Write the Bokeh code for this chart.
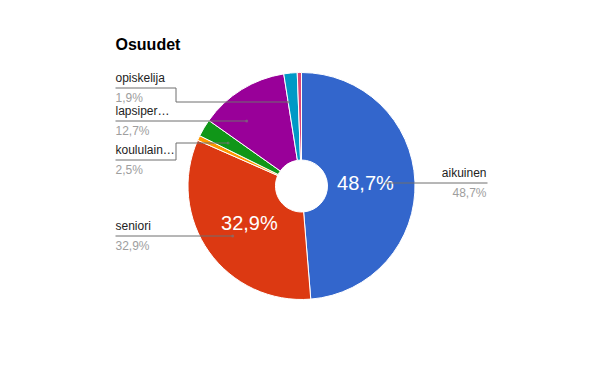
import math
from bokeh.plotting import figure
from bokeh.models import Range1d, ColumnDataSource
from bokeh.embed import file_html
from bokeh.resources import INLINE
from bokeh.core.properties import value

# ---- data ----
title_text = "Osuudet"
categories = ["aikuinen", "seniori", "muu", "koululainen", "lapsiperhe", "opiskelija", "ryhmä"]
shares = [48.7, 32.9, 0.7, 2.5, 12.7, 1.9, 0.6]
slice_colors = ["#3366cc", "#dc3912", "#ff9900", "#109618", "#990099", "#0099c6", "#dd4477"]
label_names = ["aikuinen", "seniori", "", "koululain…", "lapsiper…", "opiskelija", ""]

# ---- layout (page pixel coordinates, y downward) ----
W, H = 584, 355
CX, CY = 301.0, 185.5
R_OUT, R_IN = 113.5, 26.0
R_INNER_TEXT = 64.0
R_POINTER = 85.0
FONT = value("Liberation Sans")
TXT_SHIFT = 0.35  # baseline correction, fraction of font size
# label layout: category -> (side, y where leader meets the slice, y of the line under the name)
label_layout = {
    "aikuinen": ("right", 182.5, 182.5),
    "seniori": ("left", 235.5, 235.5),
    "koululainen": ("left", 142.5, 159.5),
    "lapsiperhe": ("left", 120.5, 120.5),
    "opiskelija": ("left", 101.5, 87.5),
}
LEFT_X, BEND_X, RIGHT_X = 115, 175.5, 487


def Y(y):
    return H - y


def TY(y, size):
    return H - (y - TXT_SHIFT * size)


p = figure(width=W, height=H, x_range=Range1d(0, W), y_range=Range1d(0, H),
           output_backend="svg", toolbar_location=None, min_border=0,
           x_axis_type=None, y_axis_type=None, outline_line_color=None)
p.grid.visible = False

# wedges, clockwise from the top
total = sum(shares)
starts, ends, mids = [], [], []
cum = 0.0
for v in shares:
    a0 = math.pi / 2 - 2 * math.pi * cum / total
    cum += v
    a1 = math.pi / 2 - 2 * math.pi * cum / total
    starts.append(a0)
    ends.append(a1)
    mids.append((a0 + a1) / 2)

src = ColumnDataSource(dict(start=starts, end=ends, color=slice_colors, cat=categories))
p.annular_wedge(x=CX, y=Y(CY), inner_radius=R_IN, outer_radius=R_OUT,
                start_angle="start", end_angle="end", direction="clock",
                fill_color="color", line_color="white", line_width=1, source=src)


def pct(v):
    return f"{v:.1f}".replace(".", ",") + "%"


# inner labels for big slices
ix, iy, it = [], [], []
for v, m in zip(shares, mids):
    if v / total >= 0.2:
        ix.append(CX + R_INNER_TEXT * math.cos(m))
        yc = CY - R_INNER_TEXT * math.sin(m)
        iy.append(TY(yc + 7, 20))
        it.append(pct(v))
p.text(x=ix, y=iy, text=it, text_font=FONT, text_font_size="20px",
       text_color="white", text_align="center", text_baseline="alphabetic")

# outside labels with leader lines
xs, ys, dx_, dy_ = [], [], [], []
nx, ny, nt, na = [], [], [], []
px_, py_, pt_ = [], [], []
for cat, v, name in zip(categories, shares, label_names):
    if cat not in label_layout:
        continue
    side, ly, ty = label_layout[cat]
    sgn = 1 if side == "right" else -1
    d = ly - CY
    ex = CX + sgn * math.sqrt(max(R_POINTER ** 2 - d ** 2, 0.0))
    if side == "right":
        xs.append([ex, RIGHT_X]); ys.append([Y(ly), Y(ly)])
        nx.append(RIGHT_X - 1); na.append("right")
    else:
        if abs(ty - ly) < 0.1:
            xs.append([LEFT_X, ex]); ys.append([Y(ly), Y(ly)])
        else:
            xs.append([LEFT_X, BEND_X, BEND_X, ex]); ys.append([Y(ty), Y(ty), Y(ly), Y(ly)])
        nx.append(LEFT_X); na.append("left")
    dx_.append(ex); dy_.append(Y(ly))
    ny.append(TY(ty - 6, 12)); nt.append(name)
    py_.append(TY(ty + 14, 12)); pt_.append(pct(v)); px_.append(nx[-1])

p.multi_line(xs=xs, ys=ys, line_color="#6f6f6f", line_width=1)
p.scatter(x=dx_, y=dy_, size=3, fill_color="#7a7a7a", line_color=None, fill_alpha=0.6)
p.text(x=nx, y=ny, text=nt, text_font=FONT, text_font_size="12px", text_color="#222222",
       text_align=na, text_baseline="alphabetic")
p.text(x=px_, y=py_, text=pt_, text_font=FONT, text_font_size="12px", text_color="#9e9e9e",
       text_align=na, text_baseline="alphabetic")

# title
p.text(x=[LEFT_X], y=[TY(50, 16)], text=[title_text], text_font=FONT, text_font_size="16px",
       text_font_style="bold", text_color="#000000", text_align="left", text_baseline="alphabetic")

open("out.html", "w").write(file_html(p, INLINE))
